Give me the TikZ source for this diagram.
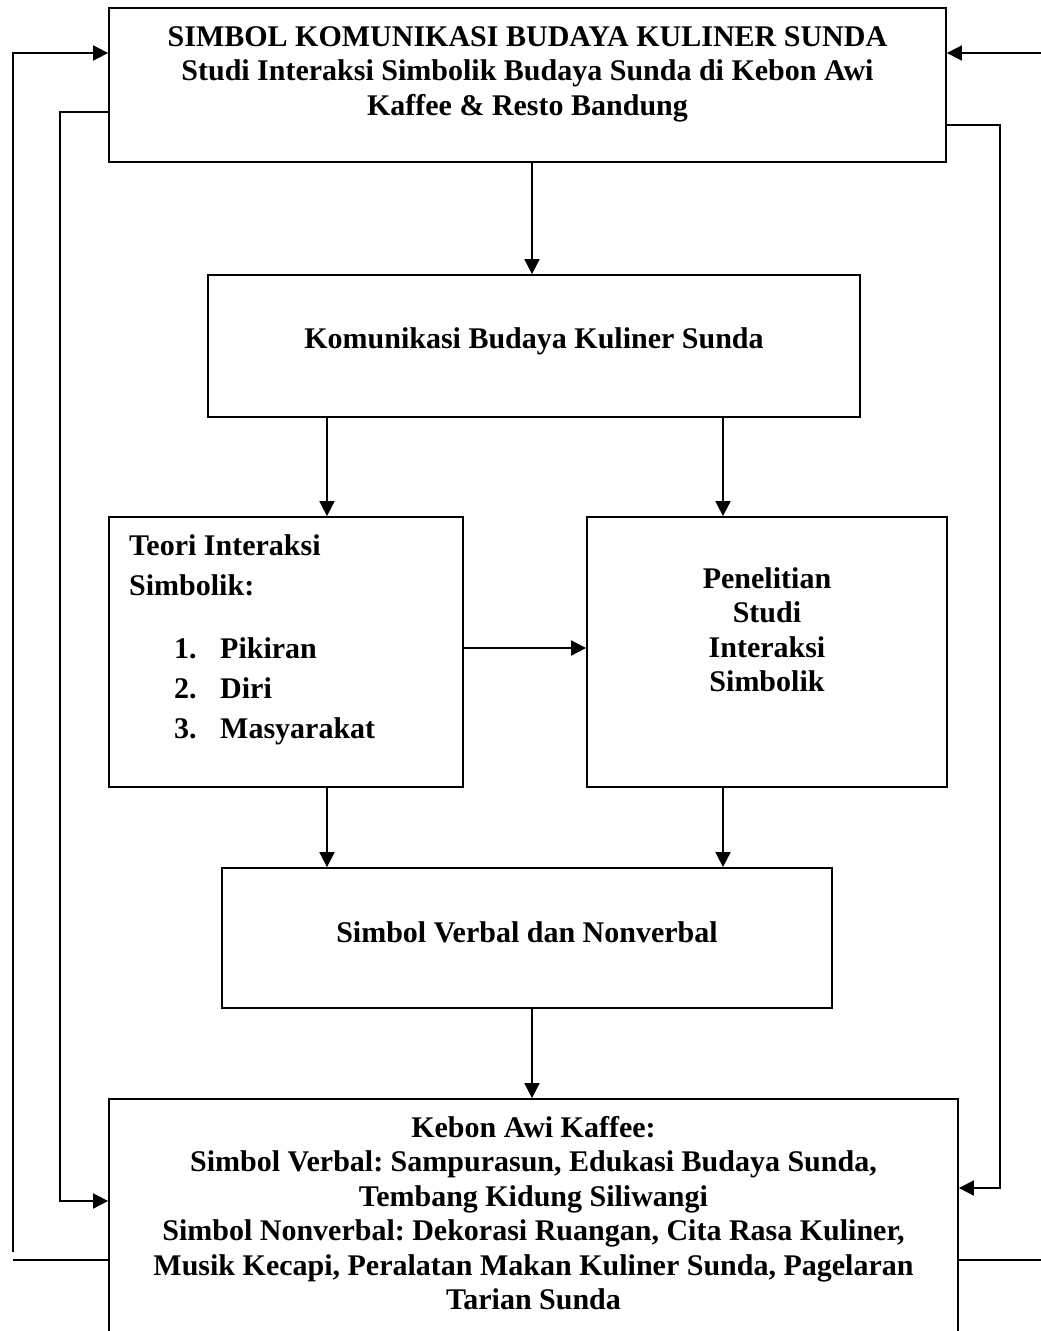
\documentclass[tikz,border=0pt]{standalone}
\usepackage{fontspec}
\setmainfont{Liberation Serif}
\usetikzlibrary{arrows.meta}
\begin{document}
\frenchspacing
\begin{tikzpicture}[x=1pt,y=-1pt,
  box/.style={draw, line width=1.8pt, inner sep=0pt},
  conn/.style={line width=1.8pt},
  arr/.style={conn, -{Triangle[length=15pt,width=15pt]}},
  txt/.style={font=\fontsize{30}{34.5}\selectfont\bfseries, inner sep=0pt, anchor=base}]
\useasboundingbox (0,0) rectangle (1041,1331);
% boxes
\node[box, minimum width=837pt, minimum height=154pt] (top) at (527.5,85) {};
\node[box, minimum width=652pt, minimum height=142pt] (kom) at (534,346) {};
\node[box, minimum width=354pt, minimum height=270pt] (teori) at (286,652) {};
\node[box, minimum width=360pt, minimum height=270pt] (pen) at (767,652) {};
\node[box, minimum width=610pt, minimum height=140pt] (sim) at (527,938) {};
\node[box, minimum width=849pt, minimum height=251pt] (kebon) at (533.5,1224.5) {};
% texts
\node[txt] (topT) at (527.5,46) {\begin{tabular}[t]{@{}c@{}}SIMBOL KOMUNIKASI BUDAYA KULINER SUNDA\\ Studi Interaksi Simbolik Budaya Sunda di Kebon Awi\\ Kaffee \& Resto Bandung\end{tabular}};
\node[txt] (komT) at (534,348) {Komunikasi Budaya Kuliner Sunda};
\node[txt, anchor=base west] (teoriT) at (129,555) {\renewcommand\arraystretch{1.16}\begin{tabular}[t]{@{}l@{}}Teori Interaksi\\ Simbolik:\\[23pt]
\hspace*{45pt}\makebox[46pt][l]{1.}Pikiran\\
\hspace*{45pt}\makebox[46pt][l]{2.}Diri\\
\hspace*{45pt}\makebox[46pt][l]{3.}Masyarakat\end{tabular}};
\node[txt] (penT) at (767,588) {\begin{tabular}[t]{@{}c@{}}Penelitian\\ Studi\\ Interaksi\\ Simbolik\end{tabular}};
\node[txt] (simT) at (527,942) {Simbol Verbal dan Nonverbal};
\node[txt] (kebonT) at (533.5,1137) {\begin{tabular}[t]{@{}c@{}}Kebon Awi Kaffee:\\ Simbol Verbal: Sampurasun, Edukasi Budaya Sunda,\\ Tembang Kidung Siliwangi\\ Simbol Nonverbal: Dekorasi Ruangan, Cita Rasa Kuliner,\\ Musik Kecapi, Peralatan Makan Kuliner Sunda, Pagelaran\\ Tarian Sunda\end{tabular}};
% guide coordinates
\coordinate (xA) at (532,0);
\coordinate (xB) at (327,0);
\coordinate (xC) at (723,0);
\coordinate (yC) at (0,648);
% main flow
\draw[arr] (top.south -| xA) -- (kom.north -| xA);
\draw[arr] (kom.south -| xB) -- (teori.north -| xB);
\draw[arr] (kom.south -| xC) -- (pen.north -| xC);
\draw[arr] (teori.east |- yC) -- (pen.west |- yC);
\draw[arr] (teori.south -| xB) -- (sim.north -| xB);
\draw[arr] (pen.south -| xC) -- (sim.north -| xC);
\draw[arr] (sim.south -| xA) -- (kebon.north -| xA);
% outer feedback lines
\coordinate (lo1) at (13,1252);
\coordinate (lo2) at (13,53);
\draw[arr] (lo1) -- (lo2) -- (top.west |- lo2);
\coordinate (lo3) at (13,1260);
\draw[conn] (kebon.west |- lo3) -- (lo3);
\coordinate (li1) at (60,112);
\coordinate (li2) at (60,1201);
\draw[arr] (top.west |- li1) -- (li1) -- (li2) -- (kebon.west |- li2);
\coordinate (ro1) at (1041,53);
\draw[arr] (ro1) -- (top.east |- ro1);
\coordinate (ro2) at (1041,1260);
\draw[conn] (kebon.east |- ro2) -- (ro2);
\coordinate (ri1) at (1000,125);
\coordinate (ri2) at (1000,1188);
\draw[arr] (top.east |- ri1) -- (ri1) -- (ri2) -- (kebon.east |- ri2);
\end{tikzpicture}
\end{document}
